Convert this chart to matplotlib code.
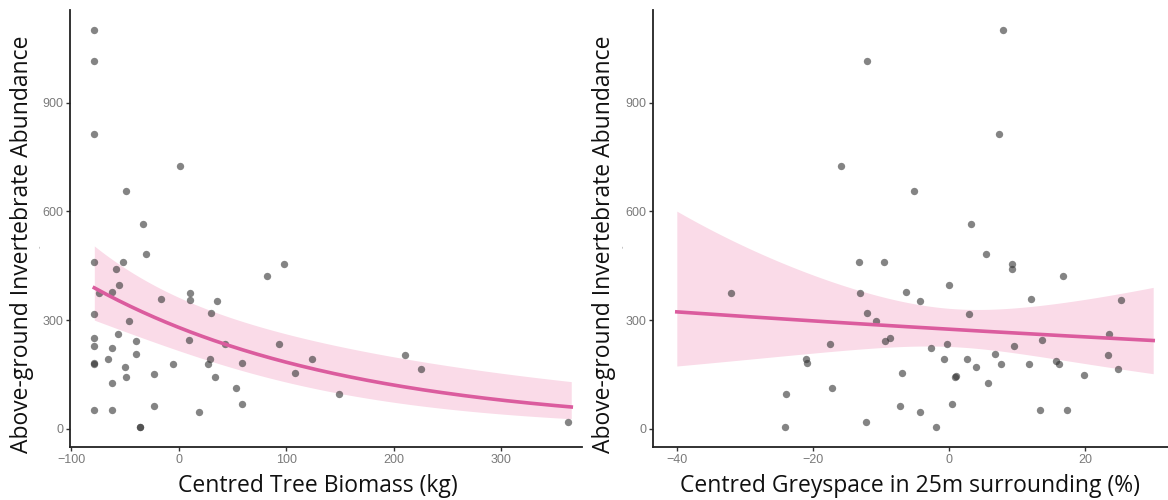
import numpy as np
import matplotlib.pyplot as plt

# Left panel: centred tree biomass (kg) vs invertebrate abundance
tree_biomass = [-78.4, -78.4, -78.4, 1.2, -49.3, -33.5,
                -30, -78.4, -51.8, -58.6, 98, 81.9, -55.5, -74, -62.3, 10.9,
                10.9, -16.4, 36, -78.4, 29.8, -46.2, -56.7, -78.4, 10, -39.3,
                -78.4, -61.7, 42.8, 93.3, -39.3, -65.4, 29.1, -78.4, -78.4, -5.6,
                27.6, 58.9, -50.2, 108.2, -23, -49, 33.5, -62.3, 53.3, 59.3,
                -23, -78.4, -61.7, 19.3, -36, -36, 124.4, 210, 225.4, 149.5, 362]
abundance_tree = [1101, 1016, 814, 726, 657, 566,
                  482, 460, 460, 441, 455, 421, 397, 374, 378, 376,
                  356, 358, 354, 318, 321, 298, 261, 250, 245, 242,
                  228, 222, 234, 234, 206, 193, 194, 183, 180, 179,
                  178, 181, 170, 154, 151, 142, 144, 127, 114, 68,
                  63, 52, 52, 46, 5, 5, 192, 203, 165, 97, 19]

# Right panel: centred greyspace (%) vs invertebrate abundance
greyspace = [-12.1, -15.9, 7.9, 7.4, -5.2, 3.2,
             -32, -13.3, -13.1, -12, -10.7, -17.5, -21, -20.9, -17.2, -23.9,
             -24.1, -12.2, -9.6, 5.5, 9.3, 9.3, 16.8, 0, -6.3, -4.3,
             12, 25.3, 2.9, -9.4, -8.7, -2.6, -0.3, 9.5, 13.7, 23.5,
             -0.7, 2.6, 6.8, 3.9, 7.6, 11.8, 15.7, 16.1, 23.4, 24.9,
             -6.9, 19.9, 0.9, 1.0, 5.8, -7.2, -4.3, 0.4, -1.9, 13.4, 17.3]
abundance_grey = [1016, 726, 1101, 814, 657, 566,
                  376, 460, 374, 321, 298, 235, 194, 181, 114, 97,
                  5, 19, 460, 482, 455, 441, 421, 397, 378, 354,
                  358, 356, 318, 243, 250, 222, 234, 228, 244, 261,
                  193, 193, 206, 170, 179, 179, 186, 179, 203, 165,
                  154, 150, 143, 145, 127, 63, 47, 68, 5, 52, 52]

# fitted log-link model: intercept, slope, se at centre, se growth, centre, x range
tree_fit = dict(b0=5.635, b1=-0.0042, s0=0.25, s1=0.0018, xc=-39, xmin=-78.4, xmax=365)
grey_fit = dict(b0=5.617, b1=-0.00401, s0=0.19, s1=0.0146, xc=0.5, xmin=-40, xmax=30)

line_col = "#DB5C9E"
band_col = "#FADBE8"
title_font = ["Open Sans", "DejaVu Sans"]


def draw_panel(ax, x, y, fit, xlim, xticks, xlabel, xlab_pos, ylab_pos):
    xs = np.linspace(fit["xmin"], fit["xmax"], 200)
    eta = fit["b0"] + fit["b1"] * xs
    se = np.sqrt(fit["s0"] ** 2 + ((xs - fit["xc"]) * fit["s1"]) ** 2)
    ax.fill_between(xs, np.exp(eta - se), np.exp(eta + se), color=band_col, lw=0, zorder=1)
    ax.scatter(x, y, s=28, color="#333333", alpha=0.6, lw=0, zorder=2)
    ax.plot(xs, np.exp(eta), color=line_col, lw=2.6, zorder=3)

    ax.set_xlim(*xlim)
    ax.set_ylim(-50, 1156)
    ax.set_xticks(xticks)
    ax.set_yticks([0, 300, 600, 900])
    for side in ["top", "right"]:
        ax.spines[side].set_visible(False)
    for side in ["left", "bottom"]:
        ax.spines[side].set_linewidth(1.3)
        ax.spines[side].set_color("#222222")
    ax.tick_params(length=3, width=1, color="#333333", labelcolor="#7a7a7a",
                   labelsize=9, pad=2)
    for lab in ax.get_xticklabels() + ax.get_yticklabels():
        lab.set_family("Liberation Sans")
    xl = ax.set_xlabel(xlabel, family=title_font, fontsize=16.5, color="#111111")
    yl = ax.set_ylabel("Above-ground Invertebrate Abundance", family=title_font,
                       fontsize=16.5, color="#111111")
    xl.set_va("center")
    yl.set_va("center")
    ax.xaxis.set_label_coords(*xlab_pos)
    ax.yaxis.set_label_coords(*ylab_pos)


fig = plt.figure(figsize=(11.68, 5), dpi=100)
ax1 = fig.add_axes([70 / 1168, 53 / 500, 512 / 1168, 437 / 500])
ax2 = fig.add_axes([653 / 1168, 53 / 500, 524 / 1168, 437 / 500])

draw_panel(ax1, tree_biomass, abundance_tree, tree_fit, (-101, 375),
           [-100, 0, 100, 200, 300], "Centred Tree Biomass (kg)",
           (0.484, -0.09), (-0.094, 0.465))
draw_panel(ax2, greyspace, abundance_grey, grey_fit, (-43.5, 33.5),
           [-40, -20, 0, 20], "Centred Greyspace in 25m surrounding (%)",
           (0.49, -0.09), (-0.094, 0.465))

# small stray marks beside each y title
fig.text(40 / 1168, 1 - 247 / 500, "-", rotation=90, fontsize=5, color="#999999",
         ha="center", va="center")
fig.text(623 / 1168, 1 - 247 / 500, "-", rotation=90, fontsize=5, color="#999999",
         ha="center", va="center")

fig.savefig("out.png", dpi=100, facecolor="white")
